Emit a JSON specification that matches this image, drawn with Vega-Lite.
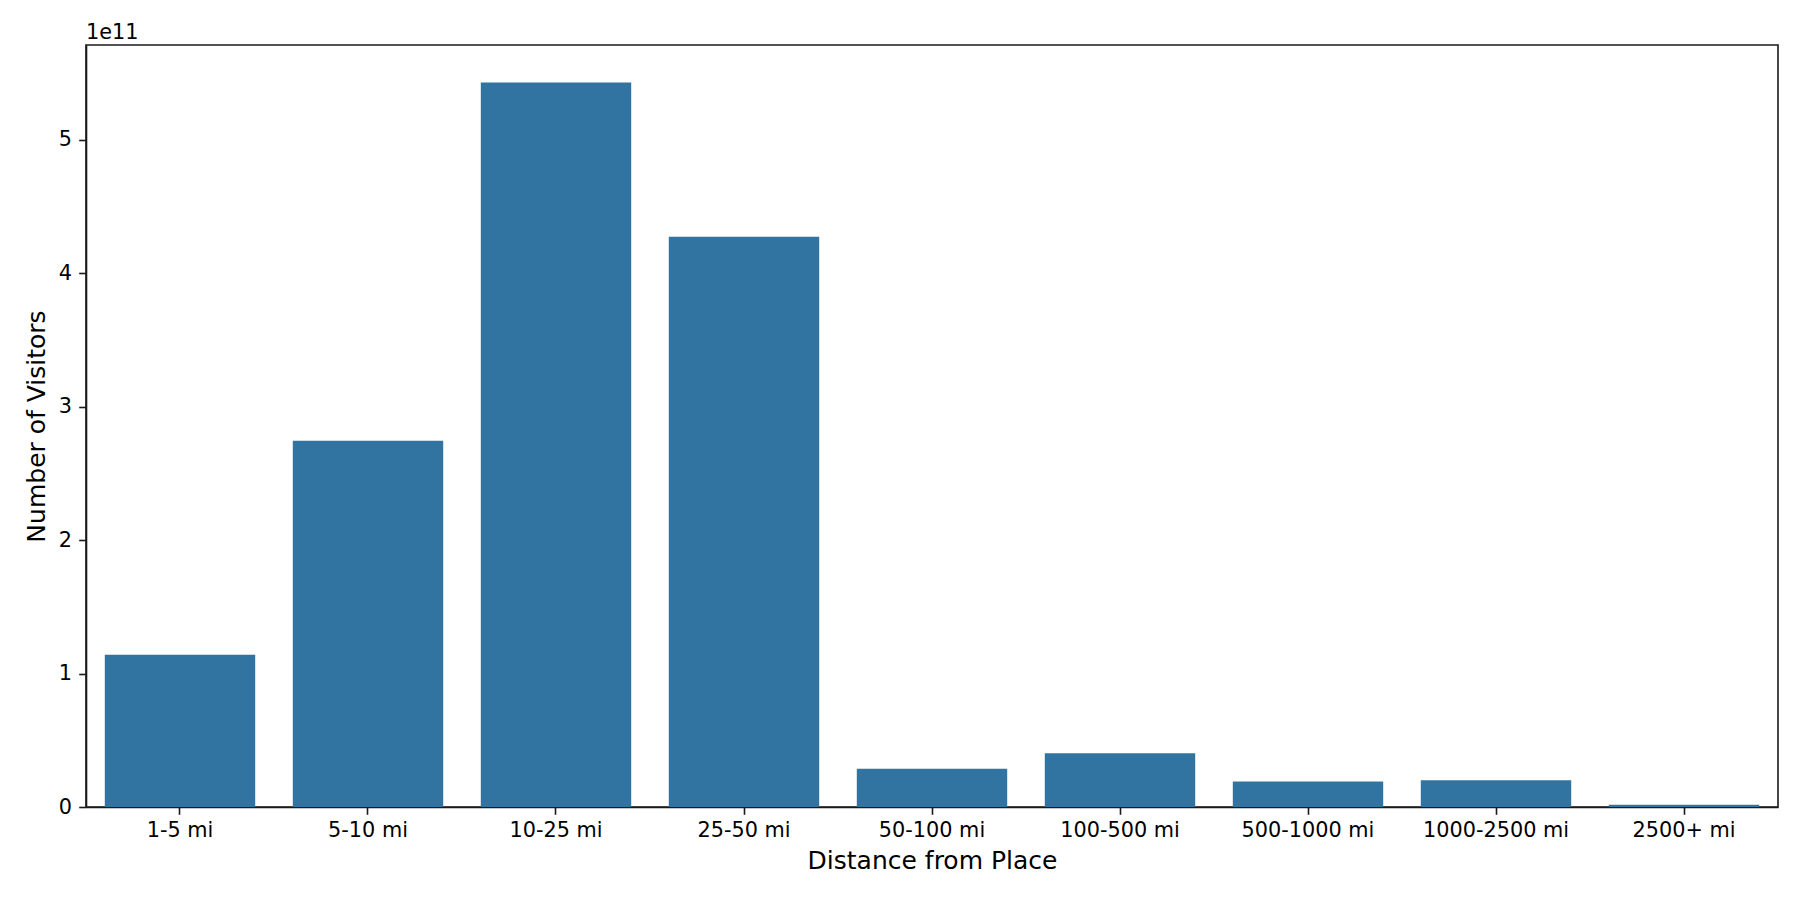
{
  "$schema": "https://vega.github.io/schema/vega-lite/v6.json",
  "autosize": "none",
  "width": 1692,
  "height": 762,
  "padding": { "left": 86, "top": 45, "right": 22, "bottom": 93 },
  "background": "white",
  "config": {
    "font": "DejaVu Sans",
    "view": { "stroke": "#1a1a1a", "strokeWidth": 1.6 },
    "axis": {
      "grid": false,
      "domainColor": "#1a1a1a",
      "domainWidth": 1.6,
      "tickColor": "#1a1a1a",
      "tickWidth": 1.6,
      "tickSize": 7.3,
      "labelFont": "DejaVu Sans",
      "labelFontSize": 20.8,
      "labelColor": "black",
      "titleFont": "DejaVu Sans",
      "titleFontSize": 25,
      "titleFontWeight": "normal",
      "titleColor": "black"
    }
  },
  "title": {
    "text": "1e11",
    "anchor": "start",
    "frame": "group",
    "baseline": "alphabetic",
    "offset": -15,
    "font": "DejaVu Sans",
    "fontSize": 20.8,
    "fontWeight": "normal",
    "color": "black"
  },
  "data": {
    "values": [
      { "distance": "1-5 mi", "visitors": 114200000000 },
      { "distance": "5-10 mi", "visitors": 274600000000 },
      { "distance": "10-25 mi", "visitors": 543000000000 },
      { "distance": "25-50 mi", "visitors": 427500000000 },
      { "distance": "50-100 mi", "visitors": 28700000000 },
      { "distance": "100-500 mi", "visitors": 40200000000 },
      { "distance": "500-1000 mi", "visitors": 19200000000 },
      { "distance": "1000-2500 mi", "visitors": 20000000000 },
      { "distance": "2500+ mi", "visitors": 1700000000 }
    ]
  },
  "mark": { "type": "bar", "color": "#3274a1" },
  "encoding": {
    "x": {
      "field": "distance",
      "type": "nominal",
      "sort": null,
      "scale": { "paddingInner": 0.2, "paddingOuter": 0.1 },
      "axis": {
        "title": "Distance from Place",
        "labelAngle": 0,
        "labelBaseline": "alphabetic",
        "labelPadding": 22.4,
        "titleBaseline": "alphabetic",
        "titleY": 61,
        "titleX": 846
      }
    },
    "y": {
      "field": "visitors",
      "type": "quantitative",
      "scale": { "domain": [0, 571200000000], "nice": false, "zero": true },
      "axis": {
        "title": "Number of Visitors",
        "values": [0, 100000000000, 200000000000, 300000000000, 400000000000, 500000000000],
        "labelExpr": "format(datum.value / 1e11, 'd')",
        "labelPadding": 7.3,
        "titleBaseline": "alphabetic",
        "titleX": -42,
        "titleY": 381,
        "titleAngle": -90
      }
    }
  }
}
